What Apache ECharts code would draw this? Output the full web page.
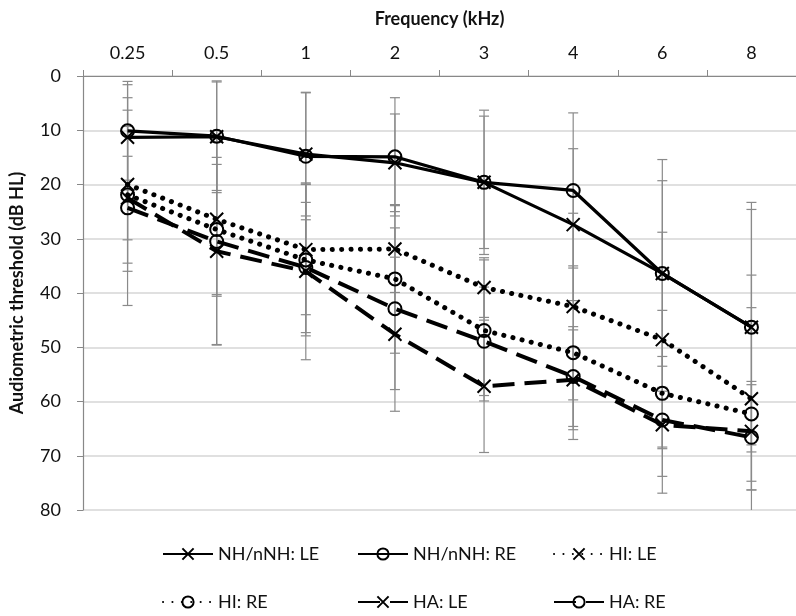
<!DOCTYPE html>
<html>
<head>
<meta charset="utf-8">
<script src="https://cdn.jsdelivr.net/npm/echarts@6/dist/echarts.min.js"></script>
<style>html,body{margin:0;padding:0;background:#fff;}#c{width:796px;height:616px;}</style>
</head>
<body>
<div id="c"></div>
<script>
// ---- data ----
var categories = ['0.25', '0.5', '1', '2', '3', '4', '6', '8'];
var yTicks = [0, 10, 20, 30, 40, 50, 60, 70, 80];

var nhLE = [11.3, 11.2, 14.4, 16.0, 19.6, 27.4, 36.4, 46.3];
var nhRE = [10.1, 11.1, 14.8, 14.9, 19.6, 21.1, 36.4, 46.3];
var hiLE = [20.0, 26.4, 32.0, 31.9, 39.0, 42.5, 48.6, 59.5];
var hiRE = [21.9, 28.3, 33.9, 37.4, 46.9, 51.0, 58.5, 62.3];
var haLE = [22.5, 32.3, 36.0, 47.6, 57.2, 56.0, 64.3, 65.5];
var haRE = [24.3, 30.5, 35.3, 42.9, 48.9, 55.4, 63.4, 66.6];

var nhLEsd = [9.7, 10.3, 11.4, 9.0, 13.3, 14.0, 17.1, 23.0];
var nhREsd = [9.1, 10.0, 11.7, 10.9, 12.2, 14.3, 21.0, 21.7];
var hiLEsd = [16.0, 14.2, 12.0, 8.0, 5.5, 17.2, 19.8, 16.8];
var hiREsd = [12.6, 12.0, 14.0, 13.7, 13.0, 16.0, 15.3, 25.6];
var haLEsd = [7.7, 17.3, 16.3, 14.2, 12.2, 9.2, 12.6, 9.2];
var haREsd = [18.0, 19.0, 12.0, 14.9, 10.0, 9.2, 5.3, 9.7];

var seriesNames = ['NH/nNH: LE', 'NH/nNH: RE', 'HI: LE', 'HI: RE', 'HA: LE', 'HA: RE'];
// ---- end data ----

var FONT = 'Lato';
var X_SYM = 'path://M0,0L10,10M0,10L10,0';
var means = [nhLE, nhRE, hiLE, hiRE, haLE, haRE];
var sds = [nhLEsd, nhREsd, hiLEsd, hiREsd, haLEsd, haREsd];
var symbols = [X_SYM, 'circle', X_SYM, 'circle', X_SYM, 'circle'];
var lineTypes = ['solid', 'solid', [0.1, 9.3], [0.1, 9.3], [22, 10], [22, 10]];
var caps = ['butt', 'butt', 'round', 'round', 'butt', 'butt'];
var widths = [3.2, 3.2, 5, 5, 4, 4];

var series = [];
// error bars
means.forEach(function (m, si) {
  var d = m.map(function (v, i) { return [i, v - sds[si][i], v + sds[si][i]]; });
  series.push({
    type: 'custom',
    name: 'err' + si,
    data: d,
    z: 1,
    silent: true,
    clip: true,
    renderItem: function (params, api) {
      var x = api.value(0), lo = api.value(1), hi = api.value(2);
      var p1 = api.coord([x, Math.max(lo, 0)]);
      var p2 = api.coord([x, Math.min(hi, 80)]);
      var hw = 5;
      var children = [{ type: 'line', shape: { x1: p1[0], y1: p1[1], x2: p2[0], y2: p2[1] }, style: { stroke: '#8a8a8a', lineWidth: 1.2 } }];
      if (lo >= 0) children.push({ type: 'line', shape: { x1: p1[0] - hw, y1: p1[1], x2: p1[0] + hw, y2: p1[1] }, style: { stroke: '#8a8a8a', lineWidth: 1.2 } });
      if (hi <= 80) children.push({ type: 'line', shape: { x1: p2[0] - hw, y1: p2[1], x2: p2[0] + hw, y2: p2[1] }, style: { stroke: '#8a8a8a', lineWidth: 1.2 } });
      return { type: 'group', children: children };
    }
  });
});
// lines
means.forEach(function (m, si) {
  series.push({
    type: 'line',
    name: seriesNames[si],
    data: m,
    z: 5,
    symbol: symbols[si],
    symbolSize: 13,
    showAllSymbol: true,
    lineStyle: { color: '#000', width: widths[si], type: lineTypes[si], cap: caps[si] },
    itemStyle: { color: 'rgba(0,0,0,0)', borderColor: '#000', borderWidth: 2 },
    emphasis: { disabled: true },
    animation: false
  });
});

var legendPos = [[162, 545], [357, 545], [553, 545], [162, 593], [357, 593], [553, 593]];
var legends = seriesNames.map(function (n, i) {
  return {
    data: [n],
    left: legendPos[i][0],
    top: legendPos[i][1],
    padding: 0,
    itemWidth: 50,
    itemHeight: 14,
    itemGap: 5,
    selectedMode: false,
    textStyle: { fontFamily: FONT, fontSize: 18, color: '#111' }
  };
});

var chart = echarts.init(document.getElementById('c'), null, { renderer: 'canvas' });
chart.setOption({
  animation: false,
  backgroundColor: '#fff',
  grid: { left: 82, top: 76, right: -3, bottom: 106, containLabel: false },
  legend: legends,
  xAxis: {
    type: 'category',
    position: 'top',
    data: categories,
    boundaryGap: true,
    name: 'Frequency (kHz)',
    nameLocation: 'middle',
    nameGap: 48,
    nameTextStyle: { fontFamily: FONT, fontSize: 18, fontWeight: 'bold', color: '#111' },
    axisLine: { lineStyle: { color: '#888', width: 1.2 } },
    axisTick: { show: true, length: 6, lineStyle: { color: '#888' } },
    axisLabel: { fontFamily: FONT, fontSize: 18, color: '#111', margin: 14 },
    splitLine: { show: false }
  },
  yAxis: {
    type: 'value',
    inverse: true,
    min: yTicks[0],
    max: yTicks[yTicks.length - 1],
    interval: 10,
    name: 'Audiometric threshold (dB HL)',
    nameLocation: 'middle',
    nameGap: 57,
    nameTextStyle: { fontFamily: FONT, fontSize: 18, fontWeight: 'bold', color: '#111' },
    axisLine: { show: true, lineStyle: { color: '#888', width: 1.2 } },
    axisTick: { show: true, length: 6, lineStyle: { color: '#888' } },
    axisLabel: { fontFamily: FONT, fontSize: 18, color: '#111', margin: 22 },
    splitLine: { show: true, lineStyle: { color: '#d6d6d6', width: 1.5 } }
  },
  series: series
});
</script>
</body>
</html>
